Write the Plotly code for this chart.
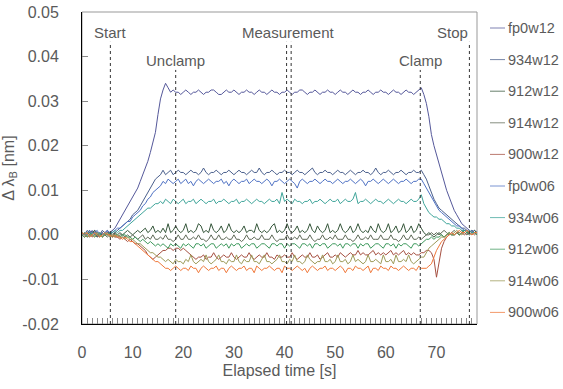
import numpy as np
import plotly.graph_objects as go

# Sampling interval of the wavelength-shift recordings [s]
DT = 0.5

# Bragg wavelength shift per grating, in picometres, sampled every DT seconds from t = 0
fp0w12 = (
    [0, 0.5, -0.5, 0, 1, 0, -0.5, 0.5, 0, 0.5, 1, 0, 1, 1.5, 2.5, 3.5, 4.5, 5.5, 6.5, 7.5]
    + [8.5, 9.5, 10.5, 12, 13.5, 15, 16.5, 18.5, 20.5, 23, 27, 30.5, 32.5, 34, 33, 32, 32.5, 32, 32, 31.5]
    + [32, 32.5, 32, 31.5, 32, 32, 32.5, 32, 31.5, 32, 32, 32.5, 32.5, 32, 31.5, 31.5, 32, 32.5, 32, 32]
    + [32.5, 32, 31.5, 32, 32, 32.5, 32, 32, 31.5, 32, 32.5, 32, 32, 31.5, 32, 32.5, 32, 32, 31.5, 32]
    + [32, 32.5, 32, 31.5, 32, 32, 32.5, 32.5, 32, 31.5, 32, 32, 32.5, 32, 31.5, 32, 32, 32.5, 32, 32]
    + [31.5, 32, 32.5, 32, 32, 31.5, 32, 32.5, 32, 32, 31.5, 32, 32, 32.5, 32, 31.5, 32, 32, 32.5, 32]
    + [32, 31.5, 32, 32.5, 32, 32, 31.5, 32, 32.5, 32, 32, 31.5, 32, 32.5, 33, 31.5, 29.5, 26.5, 22.5, 20]
    + [18, 15.5, 13.5, 11.5, 10, 8.5, 7, 5.5, 4.5, 3.5, 2.5, 2, 1.5, 1, 0.5, 1, 0.5]
)
w934w12 = (
    [0.5, 0, 1, 0.5, 0, 1, 0.5, 0, 1, 0.5, 0, 0.5, 1, 0.5, 1, 1.5, 2, 2.5, 3, 3.5]
    + [4.5, 5, 5.5, 6.5, 7.5, 8.5, 9.5, 10.5, 11.5, 12.5, 13, 13.5, 14.5, 13.5, 14, 14.5, 13.5, 14, 14.5, 14]
    + [14, 13.5, 14, 14.5, 14, 14, 13.5, 14, 15, 14, 13.5, 14, 14, 14.5, 14, 13.5, 14, 14, 14.5, 14]
    + [13.5, 14, 14.5, 14, 14, 13.5, 14, 14.5, 14, 14, 15, 14, 13.5, 14, 14, 14.5, 14, 13.5, 14, 14]
    + [14.5, 14, 14, 13.5, 14, 14.5, 14, 14, 13.5, 14, 14.5, 15, 14, 13.5, 14, 14, 14.5, 14, 14, 13.5]
    + [14, 14.5, 14, 14, 13.5, 14, 14.5, 14, 13.5, 14, 14, 14.5, 14, 14, 13.5, 14, 15, 14, 13.5, 14]
    + [14, 14.5, 14, 13.5, 14, 14, 14.5, 14, 13.5, 14, 14, 14.5, 14, 14, 14.5, 13.5, 12.5, 11, 9.5, 8]
    + [7, 6, 5.5, 5, 4.5, 4, 3.5, 3, 2.5, 2, 1.5, 1.5, 1, 0.5, 1, 0.5, 0.5]
)
w912w12 = (
    [0, 0.5, -0.5, 0, 0.5, 1, 0, -0.5, 0.5, 0, 0.5, 0, -0.5, 0.5, 0, 0.5, 0, 0.5, 1, 0.5]
    + [0, 0.5, 1, 0.5, 1, 1.5, 0.5, 1, 2, 0.5, 1, 0.5, 1.5, 0.5, 2.5, 0.5, 1, 2, 1, 0.5]
    + [1, 2.5, 0.5, 1, 0.5, 1, 2.5, 2, 0.5, 1, 0.5, 2.5, 1, 0.5, 1, 2, 0.5, 1, 2.5, 1]
    + [0.5, 1, 0.5, 1, 2, 0.5, 1, 1, 0.5, 2.5, 1, 0.5, 1, 0.5, 1, 2, 2.5, 0.5, 1, 0.5]
    + [1, 2.5, 1, 0.5, 1, 2, 0.5, 1, 0.5, 1, 2.5, 1, 0.5, 2, 1, 0.5, 1, 2.5, 0.5, 1]
    + [0.5, 1, 2.5, 1, 0.5, 1, 2, 0.5, 1, 2.5, 1, 0.5, 1, 0.5, 2, 1, 0.5, 2.5, 1, 0.5]
    + [1, 2.5, 0.5, 1, 2, 0.5, 1, 2.5, 0.5, 1, 2, 0.5, 1, 2.5, 1.5, 0.5, 0, 0.5, 0, -0.5]
    + [0, 0.5, 0, -0.5, 0, 0.5, 0, 0, 0.5, 0, 0.5, 1, 0.5, 0, 0.5, 1, 0.5]
)
w914w12 = (
    [0.5, 0, 0.5, 1, 0, 0.5, -0.5, 0, 0.5, 0, -0.5, 0, 0.5, 0, -0.5, 0, 0, -0.5, 0, -0.5]
    + [0, -0.5, -1, -0.5, 0, -1, -0.5, -1, 0, -1, -1, -0.5, -1, 0, -1, -1, -1.5, -1, 0, -1]
    + [-1, 0, -1, -1, -0.5, -1, 0, -1, -1, -1.5, -1, 0, -1, -1, 0, -1, -1, -0.5, -1, -1]
    + [0, -1, -1, -1.5, -1, 0, -1, -1, -0.5, -1, -1, 0, -1, -1, -1, 0, -1, -1.5, -1, -1]
    + [-1, 0, -1, -1, -0.5, -1, 0, -1, -1, -1, 0, -1, -1.5, -1, -1, 0, -1, -1, -0.5, -1]
    + [0, -1, -1, -1, 0, -1, -1, -1.5, -1, 0, -1, -1, -0.5, -1, 0, -1, -1, -1, 0, -1]
    + [-1, -1, 0, -1, -1, -1.5, -1, 0, -1, -1, 0, -1, -1, -0.5, -1, -0.5, 0, 0, 0.5, 0]
    + [0.5, 0, 0.5, 1, 0.5, 0, 0.5, 1, 0.5, 0.5, 1, 0.5, 0, 0.5, 1, 0.5, 0.5]
)
w900w12 = (
    [0, -0.5, 0, 0.5, -0.5, 0, 0.5, 0, -0.5, 0, 0.5, 0, 0, -0.5, -0.5, -1, -0.5, -1, -1.5, -1]
    + [-1.5, -2, -2, -2.5, -3, -3.5, -4.5, -5, -5.5, -5, -4.5, -4, -3.5, -3.5, -3, -3, -3.5, -3, -3, -3.5]
    + [-3, -3.5, -4, -4.5, -5, -5.5, -5, -5, -4.5, -5.5, -5, -5, -4, -5, -5.5, -5, -4.5, -5, -5, -4]
    + [-5, -5.5, -5, -4.5, -5, -5, -4, -5, -5.5, -5, -4.5, -5, -5, -4, -5, -5, -5.5, -4.5, -5, -5]
    + [-4.5, -5, -5, -4, -5, -5.5, -5, -4.5, -5, -5, -4, -5, -5, -4.5, -5.5, -5, -4.5, -4, -5, -5]
    + [-4.5, -5, -4, -4.5, -5, -4.5, -4, -4.5, -4.5, -3.5, -4.5, -4, -4.5, -4.5, -4, -3.5, -4.5, -4, -4.5, -4]
    + [-4.5, -4, -3.5, -4.5, -4, -4.5, -4, -3.5, -4.5, -4, -4.5, -4, -4.5, -4.5, -4, -4, -3.5, -3.5, -4, -5.5]
    + [-9.5, -6, -3, -1.5, -0.5, 0, 0.5, 0, 0.5, 0, 0.5, 0, 0.5, 1, 0.5, 0, 0.5]
)
fp0w06 = (
    [0, 0.5, 0, 1, 0, 0.5, 1, 0, 0.5, 0, 1, 0.5, 0.5, 1, 1.5, 1.5, 2, 2.5, 3, 3]
    + [4, 4.5, 5, 5.5, 6.5, 7, 8, 8.5, 9.5, 10, 10.5, 11, 12, 11.5, 12.5, 12, 11.5, 12, 12.5, 11.5]
    + [12, 12.5, 11.5, 12, 11, 12, 12.5, 12, 11.5, 12, 12.5, 12, 11.5, 12, 12, 12.5, 11.5, 12, 11, 12]
    + [12.5, 12, 11.5, 12, 12, 12.5, 11.5, 12, 12.5, 12, 12, 11.5, 12, 12.5, 12, 11, 12, 12, 12.5, 12]
    + [11.5, 12, 12.5, 12, 11.5, 10.5, 12, 12.5, 12, 11.5, 12, 12, 12.5, 12, 11.5, 12, 12.5, 12, 12, 11.5]
    + [12, 12.5, 12, 11.5, 12, 12, 12.5, 12, 11.5, 12, 12.5, 12, 11, 12, 12, 12.5, 12, 11.5, 12, 12.5]
    + [12, 11.5, 12, 12.5, 12, 11.5, 12, 12, 12.5, 12, 11.5, 12, 12, 12.5, 12.5, 11.5, 10.5, 9.5, 8.5, 7.5]
    + [6.5, 5.5, 5, 4.5, 4, 3.5, 3, 2.5, 2, 2, 1.5, 1, 1, 0.5, 1, 0.5, 0.5]
)
w934w06 = (
    [0, 0.5, 0, -0.5, 0.5, 0, 0.5, 0, -0.5, 0.5, 0, 0.5, 0.5, 1, 0.5, 1, 1, 1.5, 2, 2.5]
    + [3, 3.5, 4, 4.5, 5, 5.5, 6, 6, 6.5, 7, 7, 7.5, 7, 8, 7.5, 7, 8, 7.5, 7, 7.5]
    + [8, 7, 7.5, 7.5, 8, 7, 7.5, 8, 7.5, 7, 7.5, 7.5, 8, 7, 7.5, 7.5, 8, 7.5, 7, 7.5]
    + [7.5, 8, 7, 7.5, 7.5, 8, 7.5, 7, 7.5, 8, 7.5, 7.5, 7, 7.5, 8, 7.5, 7.5, 8, 7, 9.5]
    + [7.5, 8, 7.5, 7, 8, 7.5, 7.5, 7, 7.5, 7.5, 8, 7, 7.5, 7.5, 8, 7.5, 7, 7.5, 8, 7.5]
    + [7.5, 8, 7, 7.5, 8, 7.5, 7.5, 8, 9.5, 7, 7.5, 7.5, 8, 7.5, 7, 7.5, 8, 7.5, 7.5, 7]
    + [7.5, 8, 7.5, 7, 7.5, 8, 7.5, 7.5, 7, 7.5, 8, 7.5, 7.5, 8, 9, 7, 6, 5, 4.5, 4]
    + [4, 3.5, 3.5, 3, 2.5, 2.5, 2, 2, 1.5, 1.5, 1, 1, 0.5, 1, 0.5, 0.5, 0]
)
w912w06 = (
    [0, -0.5, 0, 0.5, 0, -0.5, 0, 0.5, -0.5, 0, 0, 0.5, -0.5, 0, 0, -0.5, 0, 0, -0.5, -0.5]
    + [-1, -0.5, -1, -1.5, -1, -1.5, -2, -1.5, -2, -2.5, -2, -2.5, -2, -2.5, -3, -2, -2.5, -2, -2.5, -3]
    + [-2, -2.5, -2, -2.5, -3, -2, -2, -2.5, -2, -3, -2.5, -2, -2, -3, -2.5, -2, -2.5, -2, -3, -2]
    + [-2.5, -2, -2, -3, -2.5, -2, -2.5, -2, -2, -3, -2.5, -2, -2, -2.5, -3, -2, -2, -2.5, -2, -2]
    + [-3, -2, -2.5, -2, -2, -2.5, -3, -2, -2, -2.5, -2, -3, -2, -2, -2.5, -2, -2, -3, -2.5, -2]
    + [-2, -2.5, -2, -3, -2, -2, -2.5, -2, -2, -3, -2, -2.5, -2, -2, -3, -2.5, -2, -2, -2.5, -3]
    + [-2, -2, -2.5, -2, -3, -2, -2.5, -2, -2, -2.5, -3, -2, -2, -2.5, -2, -1.5, -1, -1, -0.5, -1]
    + [-0.5, -0.5, 0, -0.5, 0, 0.5, 0, 0, 0.5, 0, 0.5, 1, 0.5, 0.5, 0, 0.5, 0]
)
w914w06 = (
    [0, 0.5, -0.5, 0, 0, -0.5, 0.5, 0, -0.5, 0, 0.5, -0.5, 0, -0.5, 0, -0.5, -0.5, -1, -0.5, -1]
    + [-1, -1.5, -2, -2, -2.5, -3, -3.5, -4, -4, -4.5, -5, -5, -5.5, -6, -5.5, -6, -6.5, -5.5, -6, -6]
    + [-6.5, -5.5, -6, -4.5, -6, -6.5, -6, -5.5, -6, -4.5, -6, -6.5, -6, -5.5, -4.5, -6, -6, -6.5, -5.5, -6]
    + [-6, -4.5, -6, -6.5, -5.5, -6, -6, -4.5, -6, -6, -6.5, -5.5, -4.5, -6, -6, -6.5, -6, -5.5, -4.5, -6]
    + [-6, -6.5, -5.5, -6, -4.5, -6, -6, -6.5, -6, -4.5, -5.5, -6, -6.5, -6, -6, -4.5, -6, -6, -5.5, -6.5]
    + [-6, -4.5, -6, -6, -5.5, -6.5, -6, -4.5, -6, -5.5, -6, -6.5, -6, -4.5, -6, -6, -5.5, -6, -6.5, -4.5]
    + [-6, -6, -5.5, -6.5, -4.5, -6, -6, -5.5, -6, -4.5, -6, -6.5, -6, -5.5, -5, -5, -4, -3, -2.5, -2]
    + [-1.5, -1, -0.5, -0.5, 0, 0.5, 0, 0.5, 1, 0.5, 0, 0.5, 1, 0.5, 0, 0.5, 0.5]
)
w900w06 = (
    [0.5, 0, 0.5, -0.5, 0, 0.5, 0, -0.5, 0, 0.5, 0, 0, -0.5, 0, -0.5, -0.5, -1, -0.5, -1, -1.5]
    + [-1.5, -2, -2.5, -3, -3.5, -4, -4.5, -5, -5.5, -6, -6, -6.5, -7, -7.5, -7.5, -8, -7.5, -7, -7.5, -8]
    + [-7.5, -7.5, -8, -7, -7.5, -7.5, -8.5, -7.5, -7, -7.5, -8, -7.5, -7.5, -7, -8, -7.5, -7.5, -8.5, -7.5, -7]
    + [-7.5, -8, -7.5, -7.5, -7, -8, -7.5, -7.5, -8.5, -7, -7.5, -8, -7.5, -7.5, -7, -7.5, -8, -7.5, -7.5, -8.5]
    + [-7, -7.5, -7.5, -8, -7.5, -7, -7.5, -8, -7.5, -8.5, -7.5, -7, -7.5, -8, -7.5, -7.5, -7, -8, -7.5, -7.5]
    + [-8, -7.5, -7, -7.5, -8.5, -7.5, -7.5, -8, -7, -7.5, -7.5, -8, -7.5, -7, -8.5, -7.5, -7.5, -8, -7, -7.5]
    + [-7.5, -8, -7, -7.5, -7.5, -8, -7.5, -7, -7.5, -8, -7.5, -7.5, -8, -7, -7.5, -7.5, -7.5, -7, -6.5, -5]
    + [-3.5, -2.5, -1.5, -1, -0.5, 0, 0.5, 0, 0.5, 1, 0.5, 0.5, 1, 0.5, 0, 0.5, 0.5]
)

SERIES_NAMES = ["fp0w12", "934w12", "912w12", "914w12", "900w12",
                "fp0w06", "934w06", "912w06", "914w06", "900w06"]
SERIES_VALUES = [fp0w12, w934w12, w912w12, w914w12, w900w12,
                 fp0w06, w934w06, w912w06, w914w06, w900w06]
SERIES_COLORS = ["#55589a", "#4a5f8c", "#35563a", "#5f6a58", "#a54f40",
                 "#4f72c4", "#3fa59a", "#3f9a5e", "#9c9a58", "#f0783a"]

# Test phase markers [s]
EVENT_NAMES = ["Start", "Unclamp", "Measurement", "Clamp", "Stop"]
EVENT_TIMES = [[5.6], [18.5], [40.4, 41.3], [66.8], [76.5]]
EVENT_ROW = [0, 1, 0, 1, 0]  # 0 = upper label row, 1 = lower label row

X_TICKS = [0, 10, 20, 30, 40, 50, 60, 70]
Y_TICKS = [0.05, 0.04, 0.03, 0.02, 0.01, 0.00, -0.01, -0.02]
Y_TICK_TEXT = ["0.05", "0.04", "0.03", "0.02", "0.01", "0.00", "-0.01", "-0.02"]

FONT = "Liberation Sans, Arial, sans-serif"
TXT = "#5a5a5a"

fig = go.Figure()
for name, vals, col in zip(SERIES_NAMES, SERIES_VALUES, SERIES_COLORS):
    y = np.array(vals, dtype=float) / 1000.0  # pm -> nm
    t = np.arange(len(y)) * DT
    fig.add_trace(go.Scatter(x=t, y=y, mode="lines", name=name,
                             line=dict(color=col, width=1), showlegend=False))

shapes = []
annotations = []

# plot frame (light) – left and bottom axis lines are drawn black by the axes
shapes.append(dict(type="rect", xref="paper", yref="paper", x0=0, x1=1, y0=0, y1=1,
                   line=dict(color="#999999", width=1), layer="below"))

label_y = [0.0455, 0.0392]
line_top = [0.0433, 0.0370]
for name, times, row in zip(EVENT_NAMES, EVENT_TIMES, EVENT_ROW):
    for tx in times:
        shapes.append(dict(type="line", xref="x", yref="y", x0=tx, x1=tx,
                           y0=-0.02, y1=line_top[row],
                           line=dict(color="#333333", width=1, dash="dot")))
    cx = sum(times) / len(times)
    anchor = "center"
    if name == "Stop":
        anchor = "right"
        cx = times[0] + 0.1
    annotations.append(dict(x=cx, y=label_y[row], xref="x", yref="y", text=name,
                            showarrow=False, xanchor=anchor, yanchor="middle",
                            font=dict(family=FONT, size=15, color=TXT)))

# legend column at the right of the plot
W, L, T, H = 563, 82, 12, 312
PW = 395
for i, (name, col) in enumerate(zip(SERIES_NAMES, SERIES_COLORS)):
    py = 28 + 31.6 * i
    yp = (T + H - py) / H
    shapes.append(dict(type="line", xref="paper", yref="paper",
                       x0=(490 - L) / PW, x1=(505 - L) / PW, y0=yp, y1=yp,
                       line=dict(color=col, width=1), opacity=0.75))
    annotations.append(dict(x=(506 - L) / PW, y=yp, xref="paper", yref="paper",
                            text=name, showarrow=False, xanchor="left", yanchor="middle",
                            font=dict(family=FONT, size=14.5, color=TXT)))

fig.update_layout(
    width=W, height=389,
    margin=dict(l=L, r=W - L - PW, t=T, b=389 - T - H, pad=0, autoexpand=False),
    paper_bgcolor="white", plot_bgcolor="white",
    font=dict(family=FONT, size=16, color=TXT),
    shapes=shapes, annotations=annotations, showlegend=False,
)
fig.update_xaxes(
    range=[0, 78], tickvals=X_TICKS, ticks="inside", ticklen=6, tickcolor="#888888",
    minor=dict(dtick=1, ticks="inside", ticklen=6, tickcolor="#888888"),
    showline=True, linecolor="black", linewidth=1, showgrid=False, zeroline=False,
    automargin=False,
    tickfont=dict(size=16, color=TXT), ticklabelstandoff=14,
    title=dict(text="Elapsed time [s]", font=dict(size=16, color=TXT), standoff=4),
)
fig.update_yaxes(
    range=[-0.02, 0.05], tickvals=Y_TICKS, ticktext=Y_TICK_TEXT,
    ticks="inside", ticklen=6, tickcolor="#888888",
    showline=True, linecolor="black", linewidth=1, showgrid=False, zeroline=False,
    automargin=False,
    tickfont=dict(size=16, color=TXT), ticklabelstandoff=19,
    title=dict(text="Δ λ<sub>B</sub> [nm]", font=dict(size=16, color=TXT), standoff=6),
)

fig.write_html("out.html")
